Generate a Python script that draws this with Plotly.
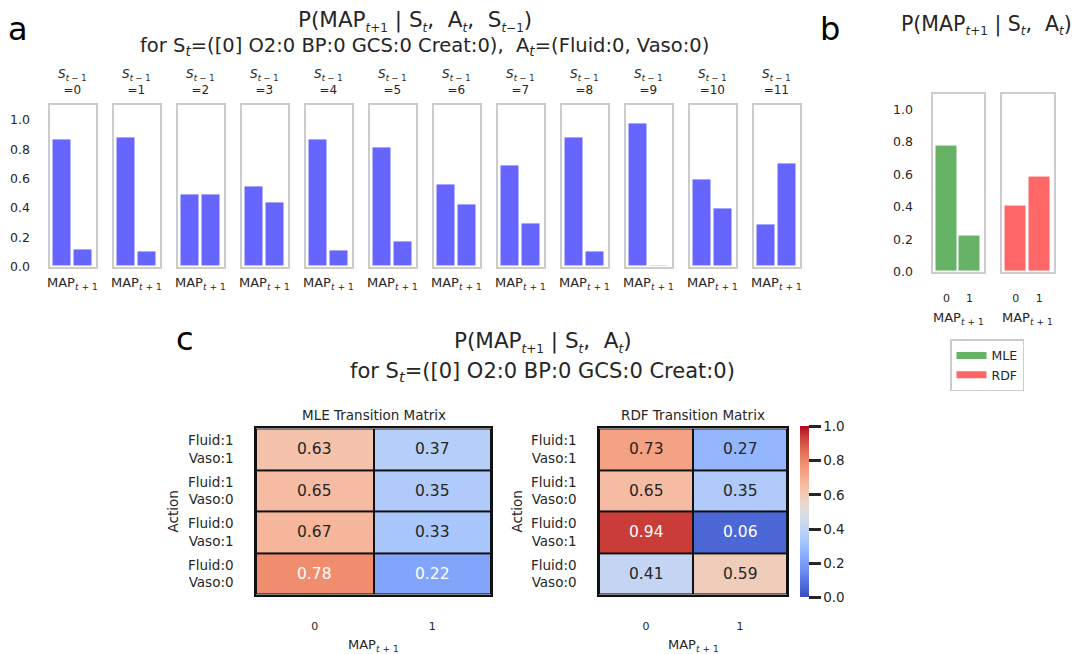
import plotly.graph_objects as go

W, H = 1082, 654
OFF = 8                      # browser body margin
FW, FH = W - OFF, H - OFF    # figure size
FONT = "DejaVu Sans"
TXT = "#262626"

# ---------------- data ----------------
prev_states = list(range(12))
map_levels = [0, 1]
p_map0_given_prev = [0.868, 0.884, 0.490, 0.548, 0.870, 0.812, 0.559, 0.689, 0.884, 0.978, 0.593, 0.287]
p_map1_given_prev = [0.116, 0.101, 0.495, 0.438, 0.114, 0.174, 0.427, 0.297, 0.101, 0.011, 0.396, 0.703]

mle_probs = [0.78, 0.22]
rdf_probs = [0.41, 0.59]

actions = ["Fluid:1 Vaso:1", "Fluid:1 Vaso:0", "Fluid:0 Vaso:1", "Fluid:0 Vaso:0"]
mle_matrix = [[0.63, 0.37], [0.65, 0.35], [0.67, 0.33], [0.78, 0.22]]
rdf_matrix = [[0.73, 0.27], [0.65, 0.35], [0.94, 0.06], [0.41, 0.59]]
y_ticks = [0.0, 0.2, 0.4, 0.6, 0.8, 1.0]
cbar_ticks = [0.0, 0.2, 0.4, 0.6, 0.8, 1.0]

# ---------------- helpers ----------------
def fx(p):
    return (p - OFF) / FW

def fy(p):
    return 1 - (p - OFF) / FH

coolwarm = [
    (0.0, (59, 76, 192)), (0.0625, (77, 104, 215)), (0.125, (98, 130, 234)),
    (0.1875, (119, 154, 247)), (0.25, (141, 176, 254)), (0.3125, (163, 194, 255)),
    (0.375, (184, 208, 249)), (0.4375, (204, 217, 238)), (0.5, (221, 221, 221)),
    (0.5625, (236, 211, 197)), (0.625, (245, 196, 173)), (0.6875, (247, 177, 148)),
    (0.75, (244, 154, 123)), (0.8125, (236, 127, 99)), (0.875, (222, 96, 77)),
    (0.9375, (203, 62, 56)), (1.0, (180, 4, 38)),
]
colorscale = [[s, "rgb(%d,%d,%d)" % c] for s, c in coolwarm]

def cw_color(v):
    for (s0, c0), (s1, c1) in zip(coolwarm[:-1], coolwarm[1:]):
        if s0 <= v <= s1:
            t = (v - s0) / (s1 - s0)
            return tuple(c0[k] + t * (c1[k] - c0[k]) for k in range(3))
    return coolwarm[-1][1]

def text_color(v):
    r, g, b = [c / 255 for c in cw_color(v)]
    def lin(c):
        return c / 12.92 if c <= 0.03928 else ((c + 0.055) / 1.055) ** 2.4
    lum = 0.2126 * lin(r) + 0.7152 * lin(g) + 0.0722 * lin(b)
    return "white" if lum <= 0.408 else TXT

def tsub(s):
    # small subscript used in the large titles
    return "<sub><span style='font-size:12px'>%s</span></sub>" % s

fig = go.Figure()
layout = {}
annotations = []
shapes = []

def axname(n):
    return "" if n == 1 else str(n)

BLUE = "#6666ff"
GREEN = "#66b366"
RED = "#ff6666"
GRAY = "#cccccc"
BOXW = 2

def ann(x, y, text, size, color=TXT, **kw):
    d = dict(x=fx(x), y=fy(y), xref="paper", yref="paper", showarrow=False, text=text,
             font=dict(size=size, color=color, family=FONT), xanchor="center", yanchor="middle")
    d.update(kw)
    annotations.append(d)

MAP_LABEL = "MAP<sub><i>t</i> + 1</sub>"
T = "<i>t</i>"

# ---------------- panel a ----------------
a_top, a_bot = 106.5, 269.5
for i, s in enumerate(prev_states):
    n = i + 1
    left = 49.5 + 64 * i
    right = left + 46
    fig.add_trace(go.Bar(
        x=map_levels, y=[p_map0_given_prev[i], p_map1_given_prev[i]],
        width=0.92, marker=dict(color=BLUE, line=dict(color="white", width=1)),
        xaxis="x" + axname(n), yaxis="y" + axname(n), showlegend=False,
        hoverinfo="skip"))
    layout["xaxis" + axname(n)] = dict(
        domain=[fx(left), fx(right)], range=[-0.6, 1.6], anchor="y" + axname(n),
        showline=True, mirror=True, linecolor=GRAY, linewidth=BOXW,
        showgrid=False, zeroline=False, showticklabels=False, ticks="", fixedrange=True)
    ydict = dict(
        domain=[fy(a_bot), fy(a_top)], range=[0, 1.1], anchor="x" + axname(n),
        showline=True, mirror=True, linecolor=GRAY, linewidth=BOXW,
        showgrid=False, zeroline=False, ticks="")
    if i == 0:
        ydict.update(showticklabels=True, tickvals=y_ticks,
                     ticktext=["%.1f" % v for v in y_ticks],
                     tickfont=dict(size=12.5, color=TXT, family=FONT),
                     ticklabelstandoff=15)
    else:
        ydict.update(showticklabels=False)
    layout["yaxis" + axname(n)] = ydict
    cx = (left + right) / 2
    ann(cx, 83, "<i>S</i><sub><i>t</i> \u2212 1</sub><br>=%d" % s, 12)
    ann(cx, 287, MAP_LABEL, 13)

ann(415, 21, "P(MAP" + tsub(T + "+1") + " | S" + tsub(T) + ",  A" + tsub(T) + ",  S" + tsub(T + "\u22121") + ")", 21.5)
ann(424, 47, "for S<sub><i>t</i></sub>=([0] O2:0 BP:0 GCS:0 Creat:0),  A<sub><i>t</i></sub>=(Fluid:0, Vaso:0)", 19.5)

# ---------------- panel b ----------------
b_top, b_bot = 94.5, 274.5
for j, (name, probs, col, left, right) in enumerate([
        ("MLE", mle_probs, GREEN, 932.5, 983.5), ("RDF", rdf_probs, RED, 1001.5, 1053.5)]):
    n = 13 + j
    fig.add_trace(go.Bar(
        x=map_levels, y=probs, name=name, width=0.92,
        marker=dict(color=col, line=dict(color="white", width=1)),
        xaxis="x" + axname(n), yaxis="y" + axname(n), showlegend=False, hoverinfo="skip"))
    # legend proxy (wide flat patch like matplotlib's)
    fig.add_trace(go.Scatter(
        x=[None], y=[None], mode="lines", name=name, line=dict(color=col, width=7),
        xaxis="x" + axname(n), yaxis="y" + axname(n), showlegend=True, hoverinfo="skip"))
    layout["xaxis" + axname(n)] = dict(
        domain=[fx(left), fx(right)], range=[-0.6, 1.6], anchor="y" + axname(n),
        showline=True, mirror=True, linecolor=GRAY, linewidth=BOXW,
        showgrid=False, zeroline=False, ticks="", tickvals=map_levels,
        ticktext=[str(v) for v in map_levels],
        tickfont=dict(size=11, color=TXT, family=FONT), ticklabelstandoff=15)
    ydict = dict(
        domain=[fy(b_bot), fy(b_top)], range=[0, 1.1], anchor="x" + axname(n),
        showline=True, mirror=True, linecolor=GRAY, linewidth=BOXW,
        showgrid=False, zeroline=False, ticks="")
    if j == 0:
        ydict.update(showticklabels=True, tickvals=y_ticks,
                     ticktext=["%.1f" % v for v in y_ticks],
                     tickfont=dict(size=12.5, color=TXT, family=FONT),
                     ticklabelstandoff=15)
    else:
        ydict.update(showticklabels=False)
    layout["yaxis" + axname(n)] = ydict
    ann((left + right) / 2, 322, MAP_LABEL, 13)

ann(986, 25, "P(MAP" + tsub(T + "+1") + " | S" + tsub(T) + ",  A" + tsub(T) + ")", 20.5)

# ---------------- panel c ----------------
c_top, c_bot = 433, 601
row_idx = list(range(len(actions)))
for j, (title, mat, left, right, act_x) in enumerate([
        ("MLE Transition Matrix", mle_matrix, 256, 491, 173),
        ("RDF Transition Matrix", rdf_matrix, 599, 787, 517)]):
    n = 15 + j
    fig.add_trace(go.Heatmap(
        z=mat, x=map_levels, y=row_idx, coloraxis="coloraxis",
        xgap=2, ygap=2, xaxis="x" + axname(n), yaxis="y" + axname(n), hoverinfo="skip"))
    shapes.append(dict(type="rect", xref="x%s domain" % axname(n), yref="y%s domain" % axname(n),
                       x0=0, x1=1, y0=0, y1=1, fillcolor="#111111", line=dict(width=0), layer="below"))
    layout["xaxis" + axname(n)] = dict(
        domain=[fx(left), fx(right)], range=[-0.5, 1.5], anchor="y" + axname(n),
        showline=True, mirror=True, linecolor="#111111", linewidth=1.5,
        showgrid=False, zeroline=False, ticks="", tickvals=map_levels,
        ticktext=[str(v) for v in map_levels],
        tickfont=dict(size=11, color=TXT, family=FONT), ticklabelstandoff=20)
    layout["yaxis" + axname(n)] = dict(
        domain=[fy(c_bot), fy(c_top)], range=[len(actions) - 0.5, -0.5], anchor="x" + axname(n),
        showline=True, mirror=True, linecolor="#111111", linewidth=1.5,
        showgrid=False, zeroline=False, ticks="", tickvals=row_idx,
        ticktext=[a.replace(" ", "<br>") for a in actions],
        tickfont=dict(size=13.5, color=TXT, family=FONT), ticklabelstandoff=18)
    for r, row in enumerate(mat):
        for c, v in enumerate(row):
            annotations.append(dict(
                x=map_levels[c], y=r, xref="x" + axname(n), yref="y" + axname(n),
                showarrow=False, text="%.2f" % v,
                font=dict(size=15.5, color=text_color(v), family=FONT)))
    ann((left + right) / 2, 419, title, 13.5)
    ann((left + right) / 2, 652, MAP_LABEL, 13)
    ann(act_x, (c_top + c_bot) / 2, "Action", 13.5, textangle=-90)

ann(543, 346, "P(MAP" + tsub(T + "+1") + " | S" + tsub(T) + ",  A" + tsub(T) + ")", 21.5)
ann(542, 376, "for S<sub><i>t</i></sub>=([0] O2:0 BP:0 GCS:0 Creat:0)", 21)

# panel letters
for letter, x, y in [("a", 18, OFF), ("b", 830, OFF)]:
    ann(x, y, letter, 32, color="black", yanchor="top")
ann(185, 343, "c", 32, color="black")

layout.update(
    width=FW, height=FH, margin=dict(l=0, r=0, t=0, b=0),
    paper_bgcolor="white", plot_bgcolor="white",
    font=dict(family=FONT, color=TXT),
    bargap=0, showlegend=True,
    legend=dict(x=fx(950), y=fy(343), xanchor="left", yanchor="top",
                bordercolor=GRAY, borderwidth=1.5, bgcolor="white",
                font=dict(size=12.5, color=TXT, family=FONT),
                itemwidth=30, tracegroupgap=0),
    coloraxis=dict(
        colorscale=colorscale, cmin=0, cmax=1,
        colorbar=dict(x=fx(800), xanchor="left", xpad=0, thickness=9,
                      lenmode="pixels", len=171, y=fy(431), yanchor="top", ypad=0,
                      ticks="outside", ticklen=12, tickwidth=2.5, tickcolor=TXT,
                      outlinewidth=0, tickvals=cbar_ticks,
                      ticktext=["%.1f" % v for v in cbar_ticks],
                      tickfont=dict(size=13.5, color=TXT, family=FONT))),
    annotations=annotations, shapes=shapes,
)
fig.update_layout(layout)
fig.write_html("out.html")
